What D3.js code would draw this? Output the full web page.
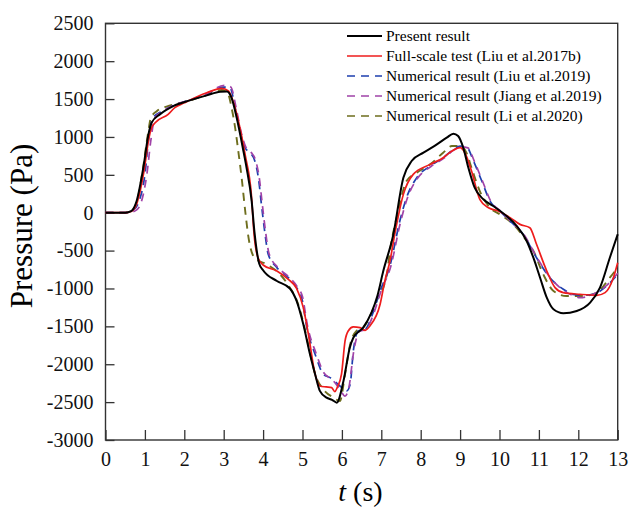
<!DOCTYPE html>
<html>
<head>
<meta charset="utf-8">
<script src="https://cdn.jsdelivr.net/npm/d3@7"></script>
<style>
  html, body { margin: 0; padding: 0; background: #fff; }
  svg { display: block; }
</style>
</head>
<body>
<svg id="chart" width="630" height="509"></svg>
<script>
// Pressure history at the measuring point, t in seconds, pressure in Pa.
const seriesNames = [
  "Present result",
  "Full-scale test (Liu et al.2017b)",
  "Numerical result (Liu et al.2019)",
  "Numerical result (Jiang et al.2019)",
  "Numerical result (Li et al.2020)"
];

const presentT = [0, 0.5, 0.65, 0.79, 0.96, 1.09, 1.17, 1.38, 1.72, 2.14, 2.57, 2.91, 3.08, 3.2, 3.33, 3.5, 3.58, 3.71, 3.78, 3.9, 4.0, 4.35, 4.68, 4.85, 5.02, 5.19, 5.32, 5.44, 5.61, 5.75, 5.87, 6.04, 6.2, 6.29, 6.54, 6.75, 6.9, 7.05, 7.3, 7.56, 7.77, 8.07, 8.41, 8.66, 8.83, 8.95, 9.08, 9.21, 9.37, 9.59, 9.84, 10.18, 10.44, 10.69, 10.86, 11.03, 11.2, 11.37, 11.62, 11.96, 12.3, 12.55, 12.8, 13.0];
const presentP = [0, 0, 20, 155, 594, 1034, 1188, 1298, 1408, 1483, 1549, 1597, 1600, 1517, 1253, 814, 594, 154, -250, -670, -760, -901, -1000, -1165, -1472, -1868, -2132, -2352, -2441, -2470, -2507, -2221, -1781, -1650, -1517, -1320, -1100, -770, -300, 462, 682, 792, 902, 990, 1043, 1012, 858, 594, 330, 177, 88, -44, -176, -373, -594, -858, -1121, -1275, -1327, -1297, -1187, -989, -594, -285];

const testT = [0, 0.5, 0.65, 0.8, 0.98, 1.1, 1.17, 1.26, 1.59, 1.76, 2.0, 2.57, 2.95, 3.12, 3.25, 3.4, 3.55, 3.7, 3.77, 3.87, 4.0, 4.35, 4.64, 4.85, 5.02, 5.15, 5.32, 5.44, 5.6, 5.74, 5.82, 5.88, 5.99, 6.08, 6.16, 6.29, 6.46, 6.59, 6.71, 6.97, 7.09, 7.22, 7.35, 7.56, 7.81, 8.24, 8.57, 8.79, 9.0, 9.12, 9.29, 9.5, 9.72, 9.97, 10.27, 10.52, 10.77, 10.94, 11.2, 11.41, 11.62, 12.04, 12.47, 12.68, 12.89, 13.0];
const testP = [0, 0, 15, 130, 560, 980, 1122, 1188, 1298, 1386, 1450, 1583, 1641, 1606, 1450, 1150, 750, 250, -280, -594, -690, -769, -880, -1000, -1253, -1605, -2132, -2287, -2300, -2309, -2362, -2309, -2132, -1693, -1561, -1508, -1517, -1552, -1495, -1209, -900, -637, -260, 242, 506, 638, 726, 814, 858, 792, 550, 177, 66, 22, -66, -154, -198, -417, -769, -989, -1055, -1077, -1090, -1055, -858, -660];

const liuT = [0, 0.55, 0.7, 0.85, 1.0, 1.1, 1.2, 1.4, 1.7, 2.1, 2.5, 2.99, 3.16, 3.29, 3.41, 3.54, 3.67, 3.79, 3.88, 3.96, 4.05, 4.13, 4.35, 4.64, 4.85, 4.98, 5.11, 5.32, 5.53, 5.7, 5.95, 6.12, 6.21, 6.29, 6.42, 6.59, 6.76, 6.97, 7.22, 7.47, 7.64, 7.9, 8.24, 8.57, 8.83, 9.0, 9.18, 9.34, 9.55, 9.76, 10.01, 10.27, 10.6, 10.94, 11.28, 11.62, 11.87, 12.1, 12.38, 12.72, 13.0];
const liuP = [0, 0, 30, 150, 500, 1000, 1250, 1330, 1410, 1480, 1550, 1658, 1650, 1386, 1078, 858, 792, 682, 462, 100, -285, -549, -725, -857, -989, -1121, -1517, -1868, -2132, -2177, -2287, -2353, -2265, -1825, -1561, -1539, -1363, -1033, -700, -110, 198, 462, 616, 726, 836, 880, 858, 682, 418, 154, 22, -110, -285, -594, -858, -1011, -1077, -1090, -1077, -967, -813];

const jiangT = [0, 0.6, 0.8, 0.96, 1.05, 1.15, 1.25, 1.4, 1.7, 2.1, 2.5, 3.02, 3.18, 3.31, 3.43, 3.56, 3.69, 3.81, 3.9, 3.98, 4.07, 4.15, 4.37, 4.66, 4.87, 5.0, 5.13, 5.34, 5.55, 5.75, 5.95, 6.08, 6.18, 6.3, 6.44, 6.61, 6.78, 6.99, 7.24, 7.49, 7.66, 7.92, 8.26, 8.59, 8.85, 9.02, 9.2, 9.36, 9.57, 9.78, 10.03, 10.29, 10.62, 10.96, 11.3, 11.64, 11.9, 12.04, 12.38, 12.72, 13.0];
const jiangP = [0, 0, 40, 243, 506, 950, 1250, 1320, 1410, 1480, 1550, 1680, 1660, 1400, 1090, 870, 800, 690, 470, 110, -280, -540, -720, -850, -980, -1110, -1500, -1850, -2120, -2200, -2330, -2420, -2300, -1830, -1570, -1540, -1370, -1040, -710, -120, 190, 455, 610, 720, 830, 870, 855, 680, 415, 150, 20, -115, -290, -600, -865, -1030, -1100, -1121, -1077, -960, -800];

const liT = [0, 0.5, 0.65, 0.8, 0.95, 1.08, 1.15, 1.3, 1.6, 2.0, 2.5, 2.95, 3.1, 3.2, 3.29, 3.37, 3.46, 3.54, 3.63, 3.79, 4.09, 4.43, 4.68, 4.85, 5.02, 5.15, 5.32, 5.53, 5.79, 5.95, 6.08, 6.21, 6.37, 6.54, 6.88, 7.14, 7.22, 7.43, 7.64, 7.9, 8.24, 8.57, 8.79, 9.0, 9.16, 9.29, 9.5, 9.76, 10.01, 10.35, 10.6, 10.86, 11.11, 11.37, 11.7, 12.13, 12.47, 12.8, 13.0];
const liP = [0, 0, 20, 150, 580, 1050, 1250, 1340, 1410, 1460, 1540, 1620, 1580, 1386, 1122, 814, 440, 50, -330, -600, -681, -813, -989, -1150, -1450, -1750, -2130, -2331, -2441, -2485, -2132, -1737, -1561, -1517, -1165, -813, -505, 22, 418, 528, 638, 792, 880, 880, 792, 594, 286, 66, -22, -154, -308, -505, -813, -1033, -1099, -1099, -1055, -858, -725];

const xTicks = [0, 1, 2, 3, 4, 5, 6, 7, 8, 9, 10, 11, 12, 13];
const yTicks = [-3000, -2500, -2000, -1500, -1000, -500, 0, 500, 1000, 1500, 2000, 2500];

const seriesT = [presentT, testT, liuT, jiangT, liT];
const seriesP = [presentP, testP, liuP, jiangP, liP];
const colors = ["#000000", "#ee1c1c", "#1e3fae", "#a043a8", "#6e6e1e"];
const dashes = [null, null, "8,6", "8,6", "8,6"];
const widths = [2, 1.7, 1.7, 1.7, 1.9];

const serif = "'Liberation Serif', 'Times New Roman', Times, serif";

const svg = d3.select("#chart");
const plotLeft = 105.5, plotRight = 617.7, plotTop = 23.3, plotBottom = 440;

const x = d3.scaleLinear().domain([0, 13]).range([plotLeft, plotRight]);
const y = d3.scaleLinear().domain([-3000, 2500]).range([plotBottom, plotTop]);

// Axes with inward-pointing ticks
const gx = svg.append("g")
  .attr("transform", `translate(0,${plotBottom})`)
  .call(d3.axisBottom(x).tickValues(xTicks).tickFormat(d3.format("d")).tickSize(-10).tickPadding(12));
const gy = svg.append("g")
  .attr("transform", `translate(${plotLeft},0)`)
  .call(d3.axisLeft(y).tickValues(yTicks).tickFormat(d => String(d)).tickSize(-9).tickPadding(12));
[gx, gy].forEach(g => {
  g.attr("font-family", serif).attr("font-size", 20);
  g.select(".domain").remove();
  g.selectAll(".tick line").attr("stroke", "#333").attr("stroke-width", 1.3);
  g.selectAll(".tick text")
    .style("font-family", serif)
    .style("font-size", "20px")
    .attr("fill", "#111");
});

// Plot frame
svg.append("rect")
  .attr("x", plotLeft).attr("y", plotTop)
  .attr("width", plotRight - plotLeft).attr("height", plotBottom - plotTop)
  .attr("fill", "none").attr("stroke", "#333").attr("stroke-width", 1.4);

// Curves
const line = d3.line()
  .x(d => x(d[0]))
  .y(d => y(d[1]))
  .curve(d3.curveMonotoneX);

const drawOrder = [4, 2, 3, 1, 0];
drawOrder.forEach(i => {
  const pts = seriesT[i].map((t, k) => [t, seriesP[i][k]]);
  svg.append("path")
    .datum(pts)
    .attr("d", line)
    .attr("fill", "none")
    .attr("stroke", colors[i])
    .attr("stroke-width", widths[i])
    .attr("stroke-dasharray", dashes[i])
    .attr("stroke-linejoin", "round");
});

// Legend
const legend = svg.append("g").attr("transform", "translate(347,36)");
seriesNames.forEach((name, i) => {
  const row = legend.append("g").attr("transform", `translate(0,${i * 20})`);
  row.append("line")
    .attr("x1", 0).attr("x2", 35).attr("y1", 0).attr("y2", 0)
    .attr("stroke", colors[i])
    .attr("stroke-width", i === 0 ? 2 : 1.7)
    .attr("stroke-dasharray", dashes[i]);
  row.append("text")
    .attr("x", 39).attr("y", 0).attr("dy", "0.33em")
    .style("font-family", serif)
    .style("font-size", "15.5px")
    .attr("fill", "#000")
    .text(name);
});

// Axis titles
svg.append("text")
  .attr("transform", "translate(32,226) rotate(-90)")
  .attr("text-anchor", "middle")
  .style("font-family", serif)
  .style("font-size", "31px")
  .attr("fill", "#000")
  .text("Pressure (Pa)");

const xt = svg.append("text")
  .attr("x", 360.5).attr("y", 501)
  .attr("text-anchor", "middle")
  .style("font-family", serif)
  .style("font-size", "28px")
  .attr("fill", "#000");
xt.append("tspan").attr("font-style", "italic").text("t");
xt.append("tspan").text(" (s)");
</script>
</body>
</html>
